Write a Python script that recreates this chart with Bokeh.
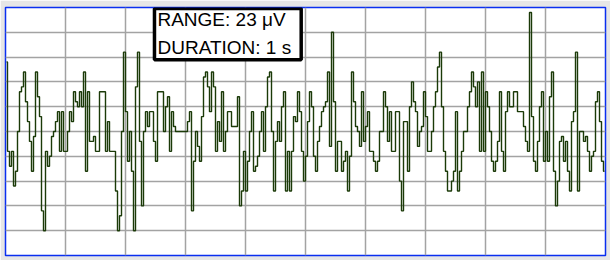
import numpy as np
from bokeh.plotting import figure
from bokeh.models import FixedTicker, Label, Range1d
from bokeh.embed import file_html
from bokeh.resources import INLINE

# amplitude samples (quantized levels, 300 samples over 1 s)
seg1 = [14, -4, -7, -4, -11, -8, 0, 8, 9, 12, 6, 2, -2, -8, -1, 12, 7, 3, -16, -20,
        -4, -7, -5, -1, 0, 2, 4, -4, 4, -4, -4, 0, 4, 2, 8, 6, 5, 8, 5, 12,
        -8, 8, -2, -2, -1, -4, -4, 8, 8, 8]
seg2 = [-4, 2, -4, -4, -4, -12, -20, -17, 0, 16, 4, -6, 0, -8, -20, 9, 16, -2, -15, 0,
        4, 1, 4, 4, -2, -6, 8, 8, 8, 0, 5, 7, -4, 4, 1, 0, 0, 0, 0, 0,
        0, 2, 4, -16, -6, 0, -3, -6, 3, 11]
seg3 = [12, 9, 4, 12, 9, -4, 2, -2, 8, -4, 0, 4, 4, 1, 1, 1, 7, -15, -12, -4,
        -12, -6, 0, 4, -8, -7, -5, 0, 4, -4, 5, 11, 12, 0, -12, -2, 2, -2, 5, 8,
        -12, -4, -12, -4, 3, 2, 8, 4, -4, -10]
seg4 = [-5, 2, 8, 5, -5, -8, -2, 1, 4, 5, 6, 12, -3, 20, 6, -8, -2, -2, -8, -6,
        -4, -12, -5, 12, 6, 1, 0, -3, 8, -2, 1, 4, -4, -4, -6, -8, -6, 0, 0, 8,
        5, -2, 4, -4, -4, 4, 4, -10, -16, 2]
seg5 = [2, -8, 5, 10, 6, 4, -3, 0, 1, 8, 3, -4, -4, 0, 5, 8, 13, 16, 5, -4,
        -8, -12, -12, -10, -8, 4, -12, -8, -4, 0, 0, 5, 8, 12, 9, 5, 10, -4, 12, -4,
        8, 5, 0, -6, -8, -6, -2, 8, -4, -8]
seg6 = [4, 8, 5, 5, 8, 8, 4, 4, 4, 1, -2, -4, 24, 3, -6, -8, -2, 5, 8, -6,
        0, -6, 7, 12, -8, -15, -10, -2, -1, -6, -2, -8, -12, 2, 4, 16, -12, 0, 0, -2,
        -1, -4, -8, -5, -4, 6, 8, 2, -6, -8]
amplitude = seg1 + seg2 + seg3 + seg4 + seg5 + seg6
n = len(amplitude)
time_s = (np.arange(n) + 0.5) / n

range_text = "RANGE: 23 \u03bcV"
duration_text = "DURATION: 1 s"

p = figure(width=610, height=260, output_backend="svg", toolbar_location=None,
           x_range=Range1d(0, 1), y_range=Range1d(-25, 25),
           min_border_left=5, min_border_right=5, min_border_top=7, min_border_bottom=5)
p.xaxis.visible = False
p.yaxis.visible = False
p.border_fill_color = "#e6e6e6"
p.background_fill_color = "white"
p.outline_line_color = "#0a2ff0"
p.outline_line_width = 1.5

p.xgrid.ticker = FixedTicker(ticks=list(np.arange(1, 10) / 10))
p.ygrid.ticker = FixedTicker(ticks=list(np.arange(-20, 21, 5)))
for g in (p.xgrid, p.ygrid):
    g.grid_line_color = "#a3a3a3"
    g.grid_line_width = 1.5

p.step(time_s, amplitude, mode="center", line_color="#1b3a08", line_width=1.4)

lab = Label(x=0.2483, y=24.8, x_units="data", y_units="data",
            text=range_text + "\n" + duration_text,
            text_font="Liberation Sans", text_font_size="19px", text_color="black",
            text_line_height=1.3, anchor="top_left", text_align="left",
            background_fill_color="white", background_fill_alpha=1.0,
            border_line_color="black", border_line_width=3.5,
            padding=dict(left=3, right=10, top=1, bottom=2))
p.add_layout(lab)

open("out.html", "w").write(file_html(p, INLINE))
